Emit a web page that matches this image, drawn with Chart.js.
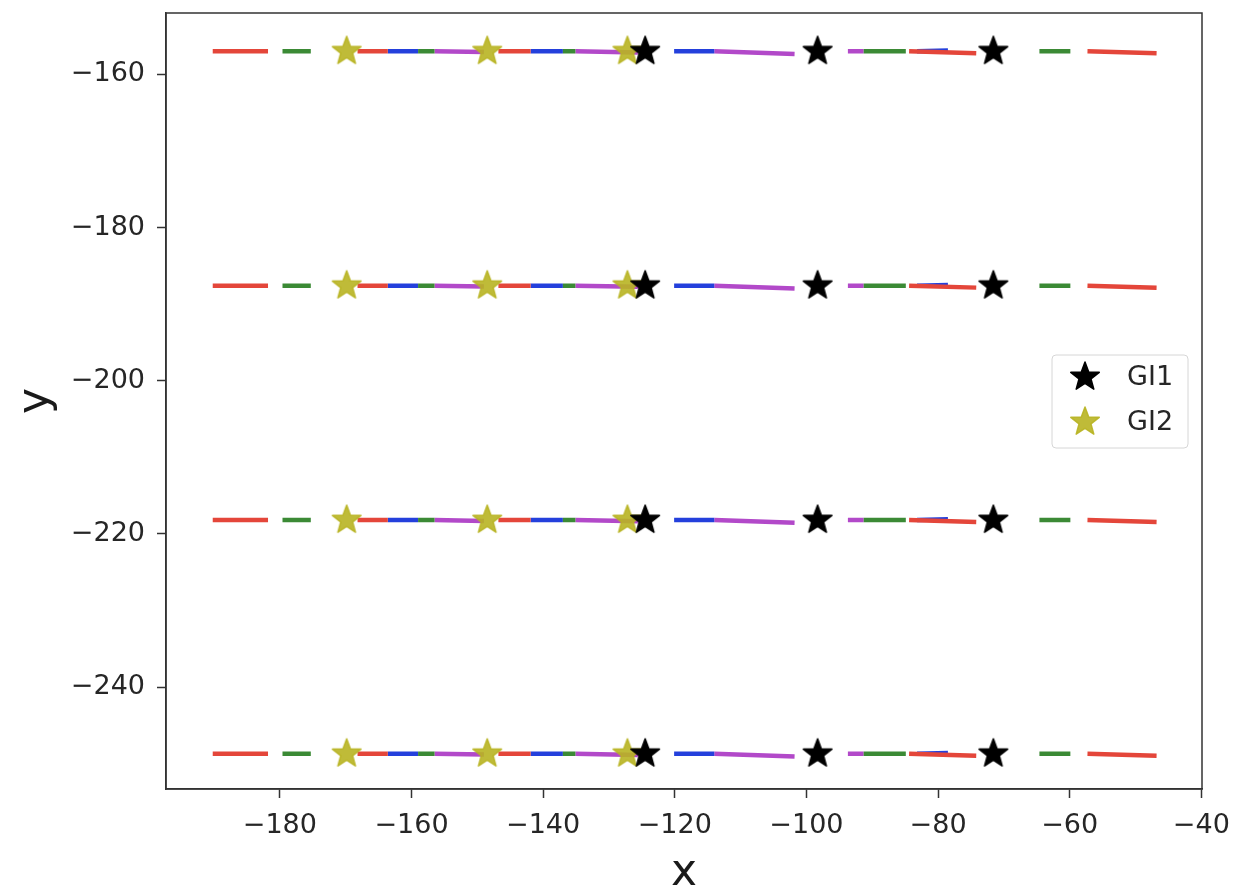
<!DOCTYPE html>
<html>
<head>
<meta charset="utf-8">
<script src="https://cdn.jsdelivr.net/npm/chart.js@4.4.1/dist/chart.umd.min.js"></script>
<style>
  html, body { margin: 0; padding: 0; background: #fff; }
  #wrap { position: relative; width: 1233px; height: 890px; }
</style>
</head>
<body>
<div id="wrap"><canvas id="traj-chart"></canvas></div>
<script>
// tick labels
const xTicks = [-180, -160, -140, -120, -100, -80, -60, -40];
const yTicks = [-240, -220, -200, -180, -160];

// the four rows of trajectories (y value of each row)
const rowY = [-157.0, -187.6, -218.2, -248.7];

// star markers (x positions, repeated on every row)
const gi1X = [-124.5, -98.3, -71.6];
const gi2X = [-169.85, -148.5, -127.2];

// dashed pieces per colour: [xStart, xEnd, drop of y at the end]
const redSegs = [[-190.2, -181.8, 0], [-168.2, -163.6, 0], [-146.8, -141.9, 0], [-84.4, -74.2, -0.25], [-57.3, -46.8, -0.25]];
const greenSegs = [[-179.6, -175.3, 0], [-159.0, -156.5, 0], [-137.0, -135.1, 0], [-91.3, -84.9, 0], [-64.6, -59.9, 0]];
const blueSegs = [[-163.6, -159.0, 0], [-141.9, -137.0, 0], [-120.1, -114.0, 0], [-83.2, -78.5, 0.1]];
const purpleSegs = [[-156.5, -149.0, -0.1], [-135.1, -125.6, -0.15], [-114.0, -101.8, -0.35], [-93.7, -91.3, 0]];

const FONT = "'DejaVu Sans', sans-serif";
const minus = v => String(v).replace('-', '\u2212');

function segPoints(segs) {
  const pts = [];
  rowY.forEach(y => {
    segs.forEach(([a, b, d]) => {
      pts.push({ x: a, y: y });
      pts.push({ x: b, y: y + d });
      pts.push({ x: b, y: null }); // break the line
    });
  });
  return pts;
}

function starPoints(xs) {
  const pts = [];
  rowY.forEach(y => xs.forEach(x => pts.push({ x: x, y: y })));
  return pts;
}

function makeStar(color, r) {
  const c = document.createElement('canvas');
  const s = Math.ceil(r * 2 + 4);
  c.width = s; c.height = s;
  const g = c.getContext('2d');
  g.beginPath();
  for (let i = 0; i < 10; i++) {
    const rad = i % 2 ? r * 0.42 : r;
    const a = -Math.PI / 2 + i * Math.PI / 5;
    g.lineTo(s / 2 + rad * Math.cos(a), s / 2 + rad * Math.sin(a));
  }
  g.closePath();
  g.fillStyle = color;
  g.fill();
  g.lineJoin = 'round';
  g.strokeStyle = color;
  g.lineWidth = 1.5;
  g.stroke();
  return c;
}

const blackStar = makeStar('#000000', 15);
const yellowStar = makeStar('rgba(184,180,34,0.9)', 15);

function lineSet(label, color, segs) {
  return {
    label: label,
    data: segPoints(segs),
    showLine: true,
    borderColor: color,
    borderWidth: 4.5,
    pointRadius: 0,
    spanGaps: false,
    order: 3
  };
}

// box around the plot + legend box like matplotlib
const framePlugin = {
  id: 'frame',
  afterDraw(chart) {
    const { ctx, chartArea: a } = chart;
    ctx.save();
    ctx.strokeStyle = '#333';
    ctx.lineWidth = 1.5;
    ctx.strokeRect(a.left, a.top, a.right - a.left, a.bottom - a.top);

    // legend
    const bx = 1052, by = 355, bw = 136, bh = 93;
    ctx.beginPath();
    ctx.roundRect(bx, by, bw, bh, 4);
    ctx.fillStyle = 'rgba(255,255,255,0.85)';
    ctx.fill();
    ctx.strokeStyle = '#d6d6d6';
    ctx.lineWidth = 1;
    ctx.stroke();
    const items = chart.data.datasets.filter(d => d.legendImg);
    ctx.font = '27px ' + FONT;
    ctx.fillStyle = '#262626';
    ctx.textBaseline = 'middle';
    items.forEach((d, i) => {
      const cy = by + 22 + i * 45;
      ctx.drawImage(d.legendImg, 1085 - d.legendImg.width / 2, cy - d.legendImg.height / 2);
      ctx.fillText(d.label, 1127, cy + 1);
    });
    ctx.restore();
  }
};

const axisStyle = {
  grid: { display: true, drawOnChartArea: false, drawTicks: true, tickLength: 9, tickColor: '#333', tickWidth: 1.5 },
  border: { display: true, color: '#333', width: 1.5 }
};

new Chart(document.getElementById('traj-chart'), {
  type: 'scatter',
  data: {
    datasets: [
      { label: 'GI1', data: starPoints(gi1X), pointStyle: blackStar, legendImg: blackStar, order: 0 },
      { label: 'GI2', data: starPoints(gi2X), pointStyle: yellowStar, legendImg: yellowStar, order: 1 },
      lineSet('a', '#e4463a', redSegs),
      lineSet('b', '#3b8a35', greenSegs),
      lineSet('c', '#2440dc', blueSegs),
      lineSet('d', '#b249c9', purpleSegs)
    ]
  },
  options: {
    responsive: true,
    maintainAspectRatio: false,
    animation: false,
    layout: { padding: { top: 13, right: 31, left: 0, bottom: 0 } },
    plugins: {
      legend: { display: false },
      tooltip: { enabled: false }
    },
    scales: {
      x: {
        type: 'linear',
        min: -197.3,
        max: -39.9,
        afterBuildTicks: s => { s.ticks = xTicks.map(v => ({ value: v })); },
        afterFit: s => { s.height = 101; s.paddingLeft = 0; s.paddingRight = 0; },
        ticks: { font: { family: FONT, size: 27 }, color: '#262626', padding: 12, maxRotation: 0, callback: v => minus(v) },
        title: { display: true, text: 'x', font: { family: FONT, size: 44 }, color: '#1a1a1a', padding: { top: 0, bottom: -10 } },
        ...axisStyle
      },
      y: {
        type: 'linear',
        min: -253.3,
        max: -152.0,
        afterBuildTicks: s => { s.ticks = yTicks.map(v => ({ value: v })); },
        afterFit: s => { s.width = 166; s.paddingTop = 0; s.paddingBottom = 0; },
        ticks: { font: { family: FONT, size: 27 }, color: '#262626', padding: 12, callback: v => minus(v) },
        title: { display: true, text: 'y', font: { family: FONT, size: 44 }, color: '#1a1a1a', padding: { top: 10, bottom: 0 } },
        ...axisStyle
      }
    }
  },
  plugins: [framePlugin]
});
</script>
</body>
</html>
